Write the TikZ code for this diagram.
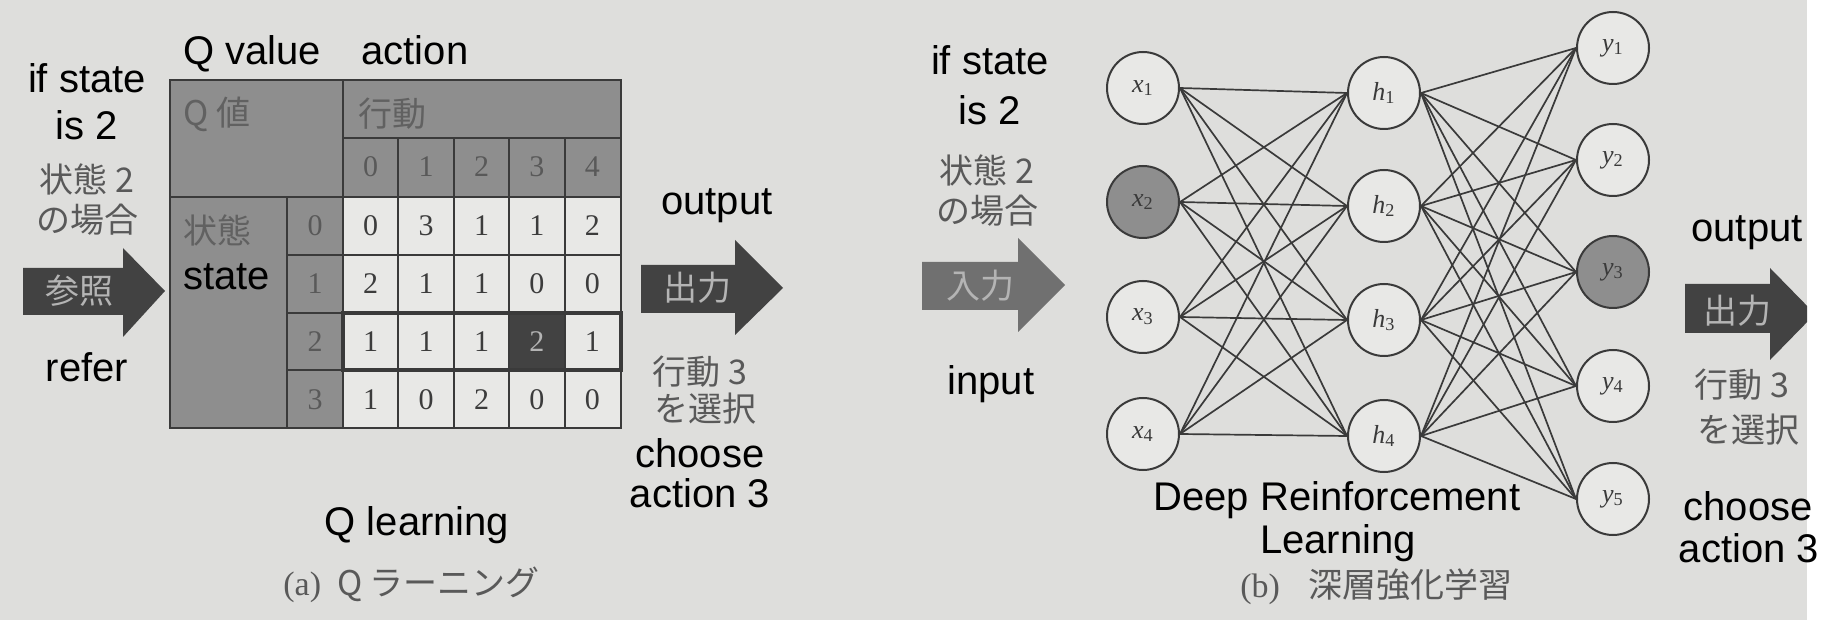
\documentclass[tikz,border=0pt]{standalone}
\usepackage{fontspec}
\setmainfont{Liberation Serif}
\setsansfont{Liberation Sans}
\newfontfamily\jpfont{Noto Sans CJK JP}
\usepackage{tikz}
\definecolor{rlpaper}{HTML}{DEDEDC}
\definecolor{rlink}{HTML}{3A3A3A}
\definecolor{rlhead}{HTML}{8E8E8E}
\definecolor{rlcell}{HTML}{E8E8E6}
\definecolor{rlgrey}{HTML}{595959}
\definecolor{rlnum}{HTML}{3C3C3C}
\definecolor{rlarrow}{HTML}{424242}
\definecolor{rlsoft}{HTML}{707070}
\definecolor{rlpale}{HTML}{B4B4B4}

\begin{document}
\begin{tikzpicture}[x=0.5pt,y=-0.5pt,
  every node/.style={inner sep=0pt},
  note/.style={font=\sffamily\fontsize{20}{24}\selectfont,anchor=base},
  jp/.style={font=\jpfont\fontsize{17}{20}\selectfont,text=rlgrey},
  num/.style={font=\fontsize{15}{18}\selectfont,text=rlnum},
  grid/.style={draw=rlink,line width=1pt},
  neuron/.style={circle,draw=rlink,line width=1pt,minimum size=36pt,font=\fontsize{13}{15}\selectfont,text=rlink},
  link/.style={draw=rlink,line width=0.85pt}]
\fill[rlpaper] (0,0) rectangle (1807,620);
\fill[white] (1807,0) rectangle (1828,620);
\useasboundingbox (0,0) rectangle (1828,620);

% (a) Q table
\fill[rlhead] (170,80) rectangle (621,428);
\fill[rlcell] (343,197) rectangle (621,428);
\fill[rlarrow] (509.2,313) rectangle (564.6,370);
\draw[grid] (170,80) rectangle (621,428);
\draw[grid] (343,80) -- (343,428) (170,197) -- (621,197) (343,138) -- (621,138) (287,197) -- (287,428);
\foreach \yy in {255,313,370} \draw[grid] (287,\yy) -- (621,\yy);
\foreach \xx in {398.4,453.8,509.2,564.6} \draw[grid] (\xx,138) -- (\xx,428);
\draw[rlink,line width=2pt] (343,313) rectangle (621,370);
\foreach \c in {0,...,4} \node[num,text=rlgrey] (act\c) at (370.7+55.4*\c,167) {\c};
\foreach \r in {0,...,3} \node[num,text=rlgrey] (st\r) at (315,226+57.75*\r) {\r};
\foreach \vals [count=\r from 0] in {{0,3,1,1,2},{2,1,1,0,0},{1,1,1,2,1},{1,0,2,0,0}}
  \foreach \v [count=\c from 0] in \vals {
    \ifnum\r\c=23 \def\tc{rlpale}\else\def\tc{rlnum}\fi
    \node[num,text=\tc] (q\r\c) at (370.7+55.4*\c,226+57.75*\r) {\v};
  }
\node[jp,anchor=west,text=rlink!80] (qhead) at (183,114) {Q 値};
\node[jp,anchor=west,text=rlink!80] (acthead) at (358,114) {行動};
\node[jp,anchor=west,text=rlink!80] (sthead) at (183,230) {状態};
\node[note] (qvalue) at (252,65) {Q value};
\node[note] (action) at (415,65) {action};
\node[note,anchor=base west] (state) at (183,290) {state};

% (a) arrows and notes
\fill[rlarrow] (23,268) -- (123,268) -- (123,248) -- (165,291) -- (123,337) -- (123,315) -- (23,315) -- cycle;
\node[jp,text=rlpale] (refer) at (80,291) {参照};
\fill[rlarrow] (641,265) -- (735,265) -- (735,240) -- (783,288) -- (735,335) -- (735,313) -- (641,313) -- cycle;
\node[jp,text=rlpale] (outa) at (697,288) {出力};
\node[note] (ifa) at (87,93) {if state};
\node[note] (isa) at (87,140) {is 2};
\node[jp] (sta) at (87,179) {状態 2};
\node[jp] (casea) at (87,220) {の場合};
\node[note] (refertxt) at (87,382) {refer};
\node[note] (outputa) at (717,215) {output};
\node[jp] (acta) at (700,372) {行動 3};
\node[jp] (sela) at (705,409) {を選択};
\node[note] (choosea) at (700,467) {choose};
\node[note] (act3a) at (700,508) {action 3};
\node[note] (qlearn) at (417,535) {Q learning};
\node[font=\fontsize{17}{20}\selectfont,text=rlgrey,anchor=west] (capa) at (283,585) {(a)\hspace{8pt}{\jpfont Q ラーニング}};

% (b) network
\foreach \i/\yy/\f in {1/88/rlcell,2/202/rlhead,3/317/rlcell,4/434/rlcell}
  \node[neuron,fill=\f] (x\i) at (1143,\yy) {\textit{x}\textsubscript{\i}};
\foreach \i/\yy in {1/93,2/206,3/320,4/436}
  \node[neuron,fill=rlcell] (h\i) at (1384,\yy) {\textit{h}\textsubscript{\i}};
\foreach \i/\yy/\f in {1/48/rlcell,2/160/rlcell,3/272/rlhead,4/386/rlcell,5/499/rlcell}
  \node[neuron,fill=\f] (y\i) at (1613,\yy) {\textit{y}\textsubscript{\i}};
\foreach \i in {1,...,4} \foreach \j in {1,...,4} \draw[link] (x\i.east) -- (h\j.west);
\foreach \j in {1,...,4} \foreach \k in {1,...,5} \draw[link] (h\j.east) -- (y\k.west);

% (b) arrows and notes
\fill[rlsoft] (922,262) -- (1018,262) -- (1018,238) -- (1065,285) -- (1018,332) -- (1018,310) -- (922,310) -- cycle;
\node[jp,text=rlpale] (inb) at (980,286) {入力};
\begin{scope}
\clip (0,0) rectangle (1807,620);
\fill[rlarrow] (1685,284) -- (1770,284) -- (1770,268) -- (1815,314) -- (1770,360) -- (1770,333) -- (1685,333) -- cycle;
\end{scope}
\node[jp,text=rlpale] (outb) at (1737,311) {出力};
\node[note] (ifb) at (990,75) {if state};
\node[note] (isb) at (990,125) {is 2};
\node[jp] (stb) at (987,170) {状態 2};
\node[jp] (caseb) at (987,211) {の場合};
\node[note] (input) at (991,395) {input};
\node[note] (outputb) at (1747,242) {output};
\node[jp] (actb) at (1742,385) {行動 3};
\node[jp] (selb) at (1748,430) {を選択};
\node[note] (chooseb) at (1748,520) {choose};
\node[note] (act3b) at (1749,562) {action 3};
\node[note] (deep) at (1337,510) {Deep Reinforcement};
\node[note] (learn) at (1338,553) {Learning};
\node[font=\fontsize{17}{20}\selectfont,text=rlgrey,anchor=west] (capb) at (1240,587) {(b)\hspace{14pt}{\jpfont 深層強化学習}};
\end{tikzpicture}
\end{document}
